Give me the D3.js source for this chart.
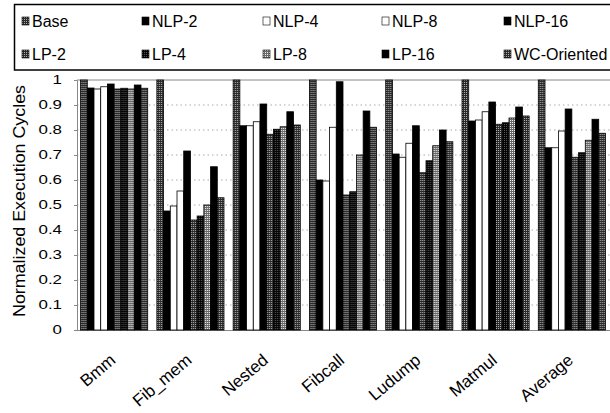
<!DOCTYPE html>
<html>
<head>
<meta charset="utf-8">
<script src="https://cdn.jsdelivr.net/npm/d3@7"></script>
<style>
  body { margin: 0; background: #fff; }
  text { font-family: "Liberation Sans", Arial, sans-serif; fill: #000; }
</style>
</head>
<body>
<div id="chart"></div>
<script>
var svgWidth = 610;
var svgHeight = 413;

// data
var categories = ["Bmm", "Fib_mem", "Nested", "Fibcall", "Ludump", "Matmul", "Average"];
var seriesNames = ["Base", "NLP-2", "NLP-4", "NLP-8", "NLP-16", "LP-2", "LP-4", "LP-8", "LP-16", "WC-Oriented"];
var base   = [1, 1, 1, 1, 1, 1, 1];
var nlp2   = [0.968, 0.476, 0.817, 0.600, 0.704, 0.836, 0.729];
var nlp4   = [0.964, 0.496, 0.817, 0.596, 0.691, 0.840, 0.729];
var nlp8   = [0.973, 0.556, 0.833, 0.811, 0.747, 0.873, 0.796];
var nlp16  = [0.984, 0.716, 0.904, 0.993, 0.817, 0.912, 0.884];
var lp2    = [0.964, 0.440, 0.783, 0.540, 0.629, 0.823, 0.691];
var lp4    = [0.967, 0.456, 0.803, 0.553, 0.677, 0.829, 0.709];
var lp8    = [0.964, 0.500, 0.813, 0.700, 0.737, 0.848, 0.759];
var lp16   = [0.980, 0.653, 0.873, 0.876, 0.800, 0.892, 0.843];
var wc     = [0.967, 0.529, 0.820, 0.811, 0.753, 0.856, 0.787];
var yTicks = [0, 0.1, 0.2, 0.3, 0.4, 0.5, 0.6, 0.7, 0.8, 0.9, 1];

var allValues = [base, nlp2, nlp4, nlp8, nlp16, lp2, lp4, lp8, lp16, wc];

// fills per series
var fills = ["url(#gridDark)", "#000", "#fff", "#fff", "#000",
             "url(#gridDark)", "url(#nearBlack)", "url(#gridLight)", "#000", "url(#gridDark)"];

var svg = d3.select("#chart")
    .append("svg")
    .attr("width", svgWidth)
    .attr("height", svgHeight);

// hatch patterns
var defs = svg.append("defs");
function addPattern(id, bg, dot) {
  var p = defs.append("pattern")
      .attr("id", id)
      .attr("patternUnits", "userSpaceOnUse")
      .attr("width", 2)
      .attr("height", 2);
  p.append("rect").attr("width", 2).attr("height", 2).attr("fill", bg);
  p.append("rect").attr("width", 1).attr("height", 1).attr("fill", dot);
}
addPattern("gridDark", "#2b2b2b", "#b0b0b0");
addPattern("gridLight", "#6a6a6a", "#f2f2f2");
addPattern("nearBlack", "#050505", "#555");

var x0 = d3.scaleBand()
    .domain(categories)
    .range([76, 610])
    .paddingInner(0.12)
    .paddingOuter(0.06);

var x1 = d3.scaleBand()
    .domain(seriesNames)
    .range([0, x0.bandwidth()]);

var y = d3.scaleLinear()
    .domain([0, 1])
    .range([330, 80]);

// gridlines
svg.append("g")
  .selectAll("line")
  .data(yTicks.slice(1, 10))
  .enter()
  .append("line")
  .attr("x1", 77)
  .attr("x2", 610)
  .attr("y1", function(d) { return y(d); })
  .attr("y2", function(d) { return y(d); })
  .attr("stroke", "#aaa")
  .attr("stroke-width", 1)
  .attr("stroke-dasharray", "1.5,3");

// plot frame (top + bottom)
svg.append("line").attr("x1", 77).attr("x2", 610).attr("y1", 80).attr("y2", 80)
  .attr("stroke", "#888");
svg.append("line").attr("x1", 77).attr("x2", 610).attr("y1", 330.5).attr("y2", 330.5)
  .attr("stroke", "#888");

// y axis
var leftAxis = d3.axisLeft(y)
    .tickValues(yTicks)
    .tickSize(3)
    .tickFormat(function(d) { return d3.format("")(+d.toFixed(1)); });

var yAxis = svg.append("g")
    .attr("transform", "translate(77,0)")
    .call(leftAxis);
yAxis.select(".domain").attr("stroke", "#888");
yAxis.selectAll(".tick line").attr("stroke", "#888");
yAxis.selectAll(".tick text")
    .attr("x", 0)
    .attr("dy", null)
    .attr("font-size", "13.5px")
    .attr("dominant-baseline", "middle")
    .attr("text-anchor", "end")
    .attr("transform", "translate(-15,0) scale(1.25,1)");

// bars
var groups = svg.append("g")
  .selectAll("g")
  .data(categories)
  .enter()
  .append("g")
  .attr("transform", function(d) { return "translate(" + x0(d) + ",0)"; });

groups.selectAll("rect")
  .data(function(d, i) {
    return seriesNames.map(function(s, j) { return {series: s, idx: j, value: allValues[j][i]}; });
  })
  .enter()
  .append("rect")
  .attr("x", function(d) { return x1(d.series); })
  .attr("y", function(d) { return y(d.value); })
  .attr("width", x1.bandwidth())
  .attr("height", function(d) { return y(0) - y(d.value); })
  .attr("fill", function(d) { return fills[d.idx]; })
  .attr("stroke", "#000")
  .attr("stroke-width", 0.8);

// x labels
svg.append("g")
  .selectAll("text")
  .data(categories)
  .enter()
  .append("text")
  .attr("text-anchor", "end")
  .attr("font-size", "17px")
  .attr("transform", function(d) {
    return "translate(" + (x0(d) + x0.bandwidth() / 2 + 2.5) + ",362) rotate(-40)";
  })
  .text(function(d) { return d; });

// y title
svg.append("text")
  .attr("text-anchor", "middle")
  .attr("font-size", "16px")
  .attr("transform", "translate(25,201) rotate(-90)")
  .attr("textLength", 232)
  .attr("lengthAdjust", "spacingAndGlyphs")
  .text("Normalized Execution Cycles");

// legend
var legend = svg.append("g");
legend.append("rect")
  .attr("x", 14.5)
  .attr("y", 4.5)
  .attr("width", 640)
  .attr("height", 65.5)
  .attr("fill", "none")
  .attr("stroke", "#000")
  .attr("stroke-width", 1.5);

var legendCols = [22, 142, 263, 382, 504];
var legendRows = [21, 54];

var items = legend.selectAll(".item")
  .data(seriesNames)
  .enter()
  .append("g")
  .attr("class", "item")
  .attr("transform", function(d, i) {
    return "translate(" + legendCols[i % 5] + "," + legendRows[Math.floor(i / 5)] + ")";
  });

items.append("rect")
  .attr("x", 0)
  .attr("y", -4)
  .attr("width", 7)
  .attr("height", 8)
  .attr("fill", function(d, i) { return fills[i]; })
  .attr("stroke", "#000")
  .attr("stroke-width", 0.6);

items.append("text")
  .attr("x", 10)
  .attr("y", 6)
  .attr("font-size", "16px")
  .text(function(d) { return d; });
</script>
</body>
</html>
